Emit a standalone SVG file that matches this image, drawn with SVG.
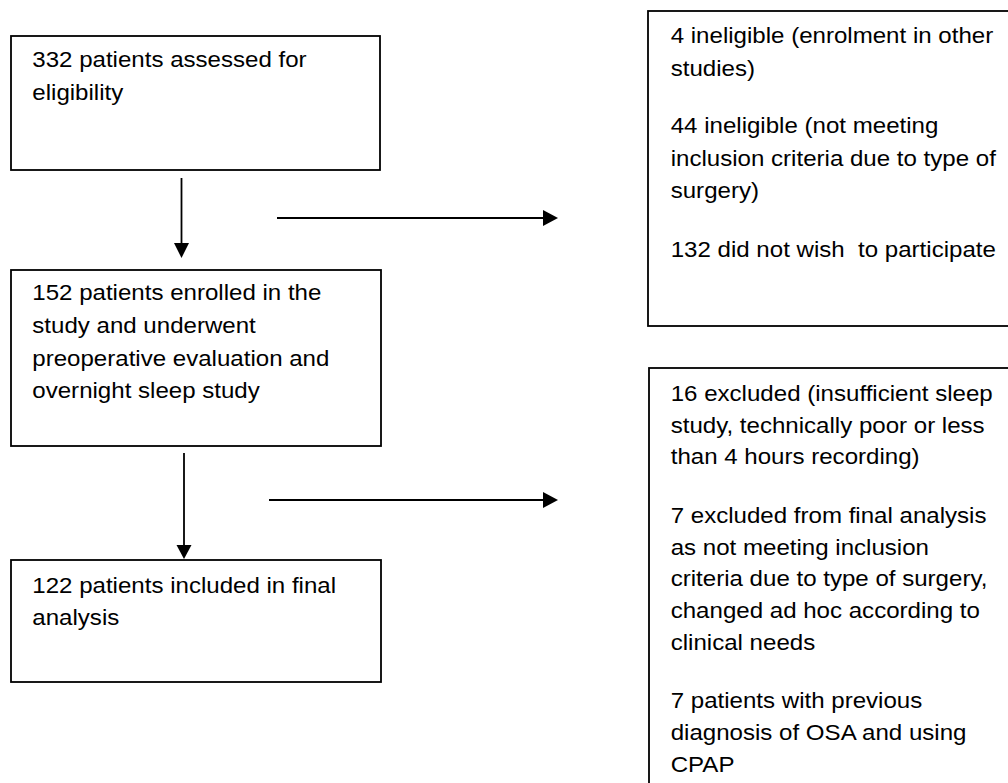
<svg xmlns="http://www.w3.org/2000/svg" width="1008" height="783" viewBox="0 0 1008 783">
<style>
.box{fill:#fff;stroke:#000;stroke-width:1.8}
.t{font-family:"Liberation Sans",Arial,sans-serif;font-size:22.5px;fill:#000;white-space:pre}
.c{stroke:#000;stroke-width:1.8;fill:none}
.ah{fill:#000}
</style>
<rect width="1008" height="783" fill="#fff"/>
<g id="n1">
<rect class="box" x="11" y="36" width="369" height="134"/>
<g transform="translate(32.3 0) scale(1.07 1)">
<text class="t" x="0" y="67.5">332 patients assessed for</text>
<text class="t" x="0" y="100">eligibility</text>
</g>
</g>
<g id="n2">
<rect class="box" x="11" y="270" width="370" height="176"/>
<g transform="translate(32.3 0) scale(1.07 1)">
<text class="t" x="0" y="300">152 patients enrolled in the</text>
<text class="t" x="0" y="333">study and underwent</text>
<text class="t" x="0" y="366">preoperative evaluation and</text>
<text class="t" x="0" y="398">overnight sleep study</text>
</g>
</g>
<g id="n3">
<rect class="box" x="11" y="560" width="370" height="122"/>
<g transform="translate(32.3 0) scale(1.07 1)">
<text class="t" x="0" y="593">122 patients included in final</text>
<text class="t" x="0" y="625">analysis</text>
</g>
</g>
<g id="n4">
<rect class="box" x="648" y="11" width="370" height="315"/>
<g transform="translate(670.7 0) scale(1.07 1)">
<text class="t" x="0" y="43">4 ineligible (enrolment in other</text>
<text class="t" x="0" y="76">studies)</text>
<text class="t" x="0" y="133">44 ineligible (not meeting</text>
<text class="t" x="0" y="166">inclusion criteria due to type of</text>
<text class="t" x="0" y="198">surgery)</text>
<text class="t" x="0" y="257">132 did not wish  to participate</text>
</g>
</g>
<g id="n5">
<rect class="box" x="649" y="368" width="370" height="430"/>
<g transform="translate(670.7 0) scale(1.07 1)">
<text class="t" x="0" y="401">16 excluded (insufficient sleep</text>
<text class="t" x="0" y="433">study, technically poor or less</text>
<text class="t" x="0" y="464.5">than 4 hours recording)</text>
<text class="t" x="0" y="523">7 excluded from final analysis</text>
<text class="t" x="0" y="555">as not meeting inclusion</text>
<text class="t" x="0" y="586">criteria due to type of surgery,</text>
<text class="t" x="0" y="618">changed ad hoc according to</text>
<text class="t" x="0" y="650">clinical needs</text>
<text class="t" x="0" y="708">7 patients with previous</text>
<text class="t" x="0" y="740">diagnosis of OSA and using</text>
<text class="t" x="0" y="772">CPAP</text>
</g>
</g>
<g id="connectors">
<line class="c" x1="181.5" y1="178" x2="181.5" y2="245"/>
<polygon class="ah" points="174,243 189,243 181.5,258"/>
<line class="c" x1="184" y1="453" x2="184" y2="546"/>
<polygon class="ah" points="176.5,545 191.5,545 184,559"/>
<line class="c" x1="277" y1="218" x2="545" y2="218"/>
<polygon class="ah" points="543,210 543,226 558,218"/>
<line class="c" x1="269" y1="500" x2="545" y2="500"/>
<polygon class="ah" points="543,492 543,508 558,500"/>
</g>
</svg>
